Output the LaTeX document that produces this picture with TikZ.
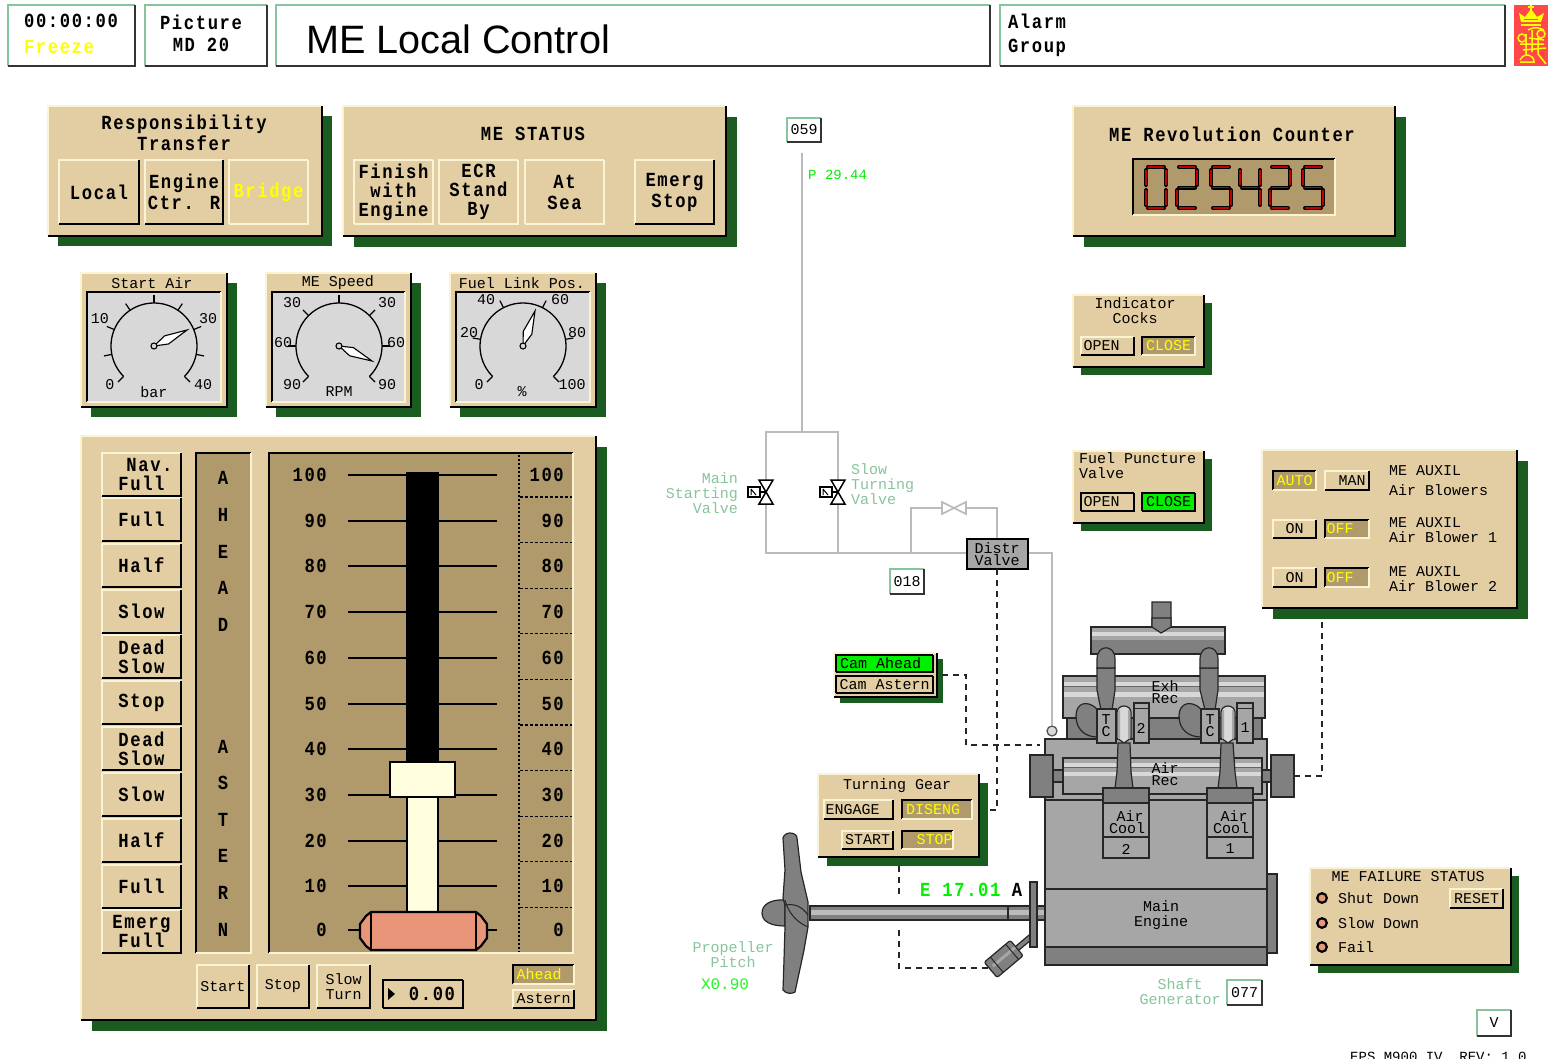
\documentclass[tikz,border=0pt]{standalone}
\usepackage{fontspec}
\usetikzlibrary{calc}
\setmainfont{Liberation Sans}
\newfontfamily\pixel{Liberation Mono}
\newfontfamily\pixelb[BoldFeatures={FakeStretch=0.86,LetterSpace=8}]{Liberation Mono}
\definecolor{tanp}{HTML}{E3CDA3}
\definecolor{tand}{HTML}{B09A6C}
\definecolor{shad}{HTML}{1A5B20}
\definecolor{crm}{HTML}{FBF4D4}
\definecolor{gaugeg}{HTML}{D8D8D8}
\definecolor{paleg}{HTML}{88C49C}
\definecolor{cream}{HTML}{FFFFE0}
\definecolor{salm}{HTML}{E9957A}
\definecolor{engl}{HTML}{A6A6A6}
\definecolor{engm}{HTML}{808080}
\definecolor{pipe}{HTML}{BBBBBB}
\definecolor{brg}{HTML}{00F000}
\definecolor{yel}{HTML}{FFFF00}
\definecolor{logor}{HTML}{FF4848}
\tikzset{
 big/.style={font=\pixelb\bfseries\fontsize{20}{19}\selectfont,align=center,inner sep=0pt},
 bigw/.style={font=\pixelb\bfseries\fontsize{20}{21}\selectfont,align=center,inner sep=0pt},
 sm/.style={font=\pixel\fontsize{15}{15}\selectfont,align=center,inner sep=0pt},
 smt/.style={font=\pixel\fontsize{15}{12}\selectfont,align=center,inner sep=0pt},
 lft/.style={anchor=west,align=left},
 rgt/.style={anchor=east,align=right},
 ptext/.style={text=paleg},
 pipeline/.style={draw=pipe,line width=1.6},
 dashline/.style={draw=black!85,line width=1.2,dash pattern=on 6pt off 5pt},
 eng/.style={draw=black!85,line width=1.2,fill=engl},
 engd/.style={draw=black!85,line width=1.2,fill=engm},
 tick/.style={draw=black,line width=1.2},
}
% fill, top-left, bottom-right, x1,y1,x2,y2
\newcommand\bevel[7]{%
 \fill[#1] (#4,#5) rectangle (#6,#7);
 \draw[#2,line width=1.5] (#4,#7)--(#4,#5)--(#6,#5);
 \draw[#3,line width=1.5] (#4,#7)--(#6,#7)--(#6,#5);}
\newcommand\panel[5]{%
 \fill[shad] ({#1+#5},{#2+#5}) rectangle ({#3+#5},{#4+#5});
 \bevel{tanp}{crm}{black}{#1}{#2}{#3}{#4}}
\newcommand\tx[5]{\node[#1] (#2) at (#3,#4) {#5};}
% style,name,x1,y1,x2,y2,text
\newcommand\btnup[7]{\bevel{tanp}{crm}{black}{#3}{#4}{#5}{#6}%
 \node[#1] (#2) at ({(#3+#5)/2},{(#4+#6)/2}) {#7};}
\newcommand\btndn[7]{\bevel{tand}{black}{crm}{#3}{#4}{#5}{#6}%
 \node[#1,text=yel] (#2) at ({(#3+#5)/2},{(#4+#6)/2}) {#7};}
\newcommand\btnfl[7]{\bevel{tanp}{crm}{crm}{#3}{#4}{#5}{#6}%
 \node[#1] (#2) at ({(#3+#5)/2},{(#4+#6)/2}) {#7};}
\newcommand\btnfr[8]{\bevel{#8}{black}{black}{#3}{#4}{#5}{#6}%
 \node[#1] (#2) at ({(#3+#5)/2},{(#4+#6)/2}) {#7};}
\newcommand\hdr[7]{\bevel{white}{paleg}{black!80}{#3}{#4}{#5}{#6}%
 \node[#1] (#2) at ({(#3+#5)/2},{(#4+#6)/2}) {#7};}
% gauge: x1 of panel, x2, cx, tip x, tip y, ticks
\newcommand\gauge[6]{%
 \panel{#1}{273}{#2}{407}{10}
 \bevel{gaugeg}{black}{crm}{#1+6}{292}{#2-6}{402}
 \draw[line width=1.3] plot[domain=-45:225,samples=60] ({#3+43*cos(\x)},{346-43*sin(\x)});
 \foreach \a in {#6}{\draw[tick] ({#3+43*cos(\a)},{346-43*sin(\a)})--({#3+51*cos(\a)},{346-51*sin(\a)});}
 \coordinate (hub#3) at (#3,346);
 \coordinate (tip#3) at (#4,#5);
 \draw[fill=white,line width=1.1] (hub#3)--($(hub#3)!.38!(tip#3)!4.5pt!90:(tip#3)$)--(tip#3)--($(hub#3)!.38!(tip#3)!4.5pt!-90:(tip#3)$)--cycle;
 \draw[fill=gaugeg,line width=1.1] (hub#3) circle (3);}
% valve
\newcommand\vvalve[2]{%
 \draw[fill=white,line width=1.5] ({#1-7},{#2-12})--({#1+7},{#2-12})--({#1-7},{#2+12})--({#1+7},{#2+12})--cycle;
 \draw[fill=white,line width=1.5] ({#1-18},{#2-5}) rectangle ({#1-6},{#2+5});
 \draw[line width=1.3] ({#1-6},#2)--(#1,#2);
 \draw[line width=1] ({#1-15},{#2-3})--({#1-15},{#2+3}) ({#1-15},{#2-3})--({#1-10},{#2+3});}
% seven segment
\newcommand\sg[4]{\draw[black,line width=4,line cap=round] (#1,#2)--(#3,#4);\draw[red!75!black,line width=1.8] (#1,#2)--(#3,#4);}
\newcommand\sA[1]{\sg{#1+4}{167}{#1+20}{167}}
\newcommand\sB[1]{\sg{#1+22}{170}{#1+22}{185}}
\newcommand\sC[1]{\sg{#1+22}{190}{#1+22}{205}}
\newcommand\sD[1]{\sg{#1+4}{208}{#1+20}{208}}
\newcommand\sE[1]{\sg{#1+2}{190}{#1+2}{205}}
\newcommand\sF[1]{\sg{#1+2}{170}{#1+2}{185}}
\newcommand\sG[1]{\sg{#1+4}{187.5}{#1+20}{187.5}}
\newcommand\dZero[1]{\sA{#1}\sB{#1}\sC{#1}\sD{#1}\sE{#1}\sF{#1}}
\newcommand\dTwo[1]{\sA{#1}\sB{#1}\sG{#1}\sE{#1}\sD{#1}}
\newcommand\dFive[1]{\sA{#1}\sF{#1}\sG{#1}\sC{#1}\sD{#1}}
\newcommand\dFour[1]{\sF{#1}\sG{#1}\sB{#1}\sC{#1}}
% banded rail
\newcommand\rail[4]{%
 \fill[engl] (#1,#2) rectangle (#3,#4);
 \fill[gaugeg] (#1,{#2+0.14*(#4-#2)}) rectangle (#3,{#2+0.24*(#4-#2)});
 \fill[black!60] (#1,{#2+0.24*(#4-#2)}) rectangle (#3,{#2+0.27*(#4-#2)});
 \fill[gaugeg] (#1,{#2+0.38*(#4-#2)}) rectangle (#3,{#2+0.50*(#4-#2)});
 \draw[black!85,line width=1.2] (#1,#2) rectangle (#3,#4);}
\begin{document}
\begin{tikzpicture}[x=1pt,y=-1pt]
\useasboundingbox (0,0) rectangle (1548,1058);
\fill[white] (0,0) rectangle (1548,1058);
%% ---- header
\bevel{white}{paleg}{black!80}{8}{5}{135}{66}
\tx{big}{clock}{71}{21}{00:00:00}
\tx{big,text=yel}{freeze}{59}{47}{Freeze}
\bevel{white}{paleg}{black!80}{145}{5}{267}{66}
\tx{big}{picture}{201}{22}{Picture}
\tx{big}{mdtwenty}{201}{45}{MD 20}
\bevel{white}{paleg}{black!80}{276}{5}{990}{66}
\node[font=\fontsize{39.6}{42}\selectfont,anchor=west,inner sep=0pt] (title) at (306,39) {ME Local Control};
\bevel{white}{paleg}{black!80}{1000}{5}{1505}{66}
\tx{big}{alarm}{1037}{21}{Alarm}
\tx{big}{group}{1037}{48}{Group}
%% logo
\fill[logor] (1514,5) rectangle (1548,66);
\fill[yel] (1521,22)--(1519,13)--(1525,17)--(1531,9)--(1537,17)--(1544,13)--(1541,22)--cycle;
\draw[yel,line width=1.4] (1521,25)--(1541,25) (1531,5)--(1531,11) (1528,7)--(1534,7);
\draw[logor,line width=1] (1524,19)--(1538,19);
\draw[yel,line width=1.5] (1522,38) circle (4) (1541,34) circle (4) (1526,34)--(1526,56) (1532,30)--(1532,52) (1538,36)--(1538,54) (1520,44)--(1544,44) (1523,50)--(1546,48) (1528,30) .. controls (1534,26) and (1540,28) .. (1544,30) (1520,60) .. controls (1524,52) and (1534,54) .. (1534,62) -- (1520,62) (1538,54)--(1546,64) (1529,38)--(1544,40);
%% ---- responsibility
\panel{48}{106}{322}{236}{10}
\node[bigw] (resp) at (184,133) {Responsibility\\Transfer};
\btnup{big}{local}{59}{160}{139}{224}{Local}
\btnup{bigw}{ectr}{145}{160}{223}{224}{Engine\\Ctr. R}
\btnfl{big,text=yel}{bridge}{229}{160}{308}{224}{Bridge}
%% ---- ME status
\panel{343}{106}{726}{236}{11}
\tx{big}{mestatus}{533}{134}{ME STATUS}
\btnfl{big}{finish}{354}{160}{433}{224}{Finish\\with\\Engine}
\btnfl{big}{ecr}{439}{160}{518}{224}{ECR\\Stand\\By}
\btnfl{bigw}{atsea}{525}{160}{604}{224}{At\\Sea}
\btnup{bigw}{emerg}{635}{160}{714}{224}{Emerg\\Stop}
%% ---- gauges
\gauge{81}{227}{154}{187}{330}{225,191.25,157.5,123.75,90,56.25,22.5,-11.25,-45}
\tx{sm}{g1t}{152}{283}{Start Air}
\tx{sm}{g1a}{100}{319}{10}\tx{sm}{g1b}{208}{319}{30}\tx{sm}{g1c}{110}{385}{0}\tx{sm}{g1d}{203}{385}{40}\tx{sm}{g1u}{154}{392}{bar}
\gauge{266}{411}{339}{372}{361}{225,180,135,90,45,0,-45}
\tx{sm}{g2t}{338}{283}{ME Speed}
\tx{sm}{g2a}{292}{303}{30}\tx{sm}{g2b}{387}{303}{30}\tx{sm}{g2c}{283}{343}{60}\tx{sm}{g2d}{396}{343}{60}\tx{sm}{g2e}{292}{385}{90}\tx{sm}{g2f}{387}{385}{90}\tx{sm}{g2u}{339}{392}{RPM}
\gauge{450}{596}{523}{535}{311}{225,171,117,63,9,-45}
\tx{sm}{g3t}{522}{283}{Fuel Link Pos.}
\tx{sm}{g3a}{486}{300}{40}\tx{sm}{g3b}{560}{300}{60}\tx{sm}{g3c}{469}{333}{20}\tx{sm}{g3d}{577}{333}{80}\tx{sm}{g3e}{479}{385}{0}\tx{sm}{g3f}{572}{385}{100}\tx{sm}{g3u}{522}{392}{\%}
%% ---- telegraph
\panel{81}{436}{596}{1020}{11}
\btnup{big}{t1}{102}{453}{181}{496}{\hspace*{16pt}Nav.\\Full}
\btnup{big}{t2}{102}{498}{181}{541}{Full}
\btnup{big}{t3}{102}{544}{181}{587}{Half}
\btnup{big}{t4}{102}{590}{181}{633}{Slow}
\btnup{big}{t5}{102}{635}{181}{678}{Dead\\Slow}
\btnup{big}{t6}{102}{681}{181}{724}{Stop}
\btnup{big}{t7}{102}{727}{181}{770}{Dead\\Slow}
\btnup{big}{t8}{102}{773}{181}{816}{Slow}
\btnup{big}{t9}{102}{819}{181}{862}{Half}
\btnup{big}{t10}{102}{865}{181}{908}{Full}
\btnup{big}{t11}{102}{910}{181}{953}{Emerg\\Full}
\bevel{tand}{black}{crm}{196}{453}{251}{953}
\foreach \l/\y in {A/478,H/515,E/552,A/588,D/625,A/747,S/783,T/820,E/856,R/893,N/930}{\node[big] (let\y) at (223,\y) {\l};}
\bevel{tand}{black}{crm}{269}{453}{573}{953}
\draw[black,line width=1.3,dash pattern=on 2pt off 2pt] (519,455)--(519,952);
\foreach \k in {0,...,9}{\draw[black,line width=1.1,dash pattern=on 3pt off 2pt] (520,{497+45.6*\k})--(572,{497+45.6*\k});}
\foreach \v/\y in {100/475,90/521,80/566,70/612,60/658,50/704,40/749,30/795,20/841,10/886,0/930}{
 \draw[tick] (348,\y)--(497,\y);
 \node[big,anchor=east] (la\v) at (327,\y) {\v};
 \node[big,anchor=east] (ra\v) at (564,\y) {\v};}
\fill[black] (406,472) rectangle (439,762);
\draw[fill=cream,line width=2.4] (407,797) rectangle (438,912);
\draw[fill=cream,line width=2.4] (390,762) rectangle (455,797);
\draw[fill=salm,line width=2.2] (371,912)--(476,912)--(481,916)--(487,924)--(487,938)--(481,946)--(476,950)--(371,950)--(366,946)--(360,938)--(360,924)--(366,916)--cycle;
\draw[line width=2.2] (371,912)--(371,950) (476,912)--(476,950);
\btnfl{sm}{bstart}{197}{965}{249}{1008}{Start}
\draw[black,line width=1.4] (197,1008)--(249,1008)--(249,965);
\btnfl{sm}{bstop}{257}{965}{309}{1008}{Stop}
\draw[black,line width=1.4] (257,1008)--(309,1008)--(309,965);
\btnfl{sm}{bslow}{317}{965}{370}{1008}{Slow\\Turn}
\draw[black,line width=1.4] (317,1008)--(370,1008)--(370,965);
\bevel{tanp}{black}{black}{383}{980}{463}{1008}
\fill[black] (388,988)--(395,994)--(388,1000)--cycle;
\tx{big}{value}{432}{994}{0.00}
\btndn{sm}{ahead}{513}{965}{574}{984}{Ahead\hspace*{9pt}}
\btnup{sm}{astern}{513}{990}{574}{1008}{Astern}
%% ---- revolution counter
\panel{1073}{106}{1395}{236}{11}
\tx{big}{revt}{1232}{134}{ME Revolution Counter}
\bevel{tand}{black}{crm}{1133}{159}{1335}{215}
\dZero{1144}\dTwo{1175}\dFive{1209}\dFour{1238}\dTwo{1268}\dFive{1301}
%% ---- indicator cocks
\panel{1073}{295}{1204}{367}{8}
\node[sm] (ict) at (1135,311) {Indicator\\Cocks};
\btnup{sm}{icopen}{1081}{337}{1134}{355}{OPEN\hspace*{12pt}}
\btndn{sm}{icclose}{1142}{337}{1195}{355}{CLOSE}
%% ---- fuel puncture
\panel{1073}{451}{1204}{523}{8}
\node[sm,anchor=north west,align=left] (fpt) at (1079,452) {Fuel Puncture\\Valve};
\btnfr{sm}{fpopen}{1081}{493}{1134}{511}{OPEN\hspace*{12pt}}{tanp}
\btnfr{sm}{fpclose}{1142}{493}{1195}{511}{CLOSE}{brg}
%% ---- aux blowers
\panel{1262}{450}{1517}{608}{11}
\btndn{sm}{auto}{1273}{471}{1316}{490}{AUTO}
\btnup{sm}{man}{1325}{471}{1369}{490}{\hspace*{10pt}MAN}
\btnup{sm}{on1}{1273}{520}{1316}{538}{ON}
\btndn{sm}{off1}{1325}{520}{1369}{538}{OFF\hspace*{14pt}}
\btnup{sm}{on2}{1273}{568}{1316}{587}{ON}
\btndn{sm}{off2}{1325}{568}{1369}{587}{OFF\hspace*{14pt}}
\node[sm,lft] (aux0a) at (1389,471) {ME AUXIL};
\node[sm,lft] (aux0b) at (1389,490) {Air Blowers};
\node[sm,lft] (aux1) at (1389,530.5) {ME AUXIL\\Air Blower 1};
\node[sm,lft] (aux2) at (1389,579.5) {ME AUXIL\\Air Blower 2};
%% ---- pipes
\hdr{sm}{b059}{787}{118}{821}{142}{059}
\node[sm,font=\pixel\fontsize{14}{14}\selectfont,text=brg,lft] (p2944) at (808,175) {P 29.44};
\coordinate (j0) at (802,153);
\coordinate (jt) at (802,432);
\coordinate (tl) at (766,432);
\coordinate (tr) at (838,432);
\coordinate (bl) at (766,553);
\coordinate (br) at (838,553);
\coordinate (jb) at (911,553);
\coordinate (jb2) at (911,508);
\coordinate (jv) at (997,508);
\draw[pipeline] (j0)--(jt);
\draw[pipeline] (tl)--(tr)--(br)--(bl)--cycle;
\draw[pipeline] (br)--(967,553);
\draw[pipeline] (jb)--(jb2)--(jv)--(997,539);
\draw[draw=pipe,fill=white,line width=1.6] (942,502)--(942,514)--(966,502)--(966,514)--cycle;
\draw[pipeline] (1028,553)--(1052,553)--(1052,725);
\draw[draw=black!70,fill=gaugeg,line width=1.2] (1052,731) circle (5);
\vvalve{766}{492}
\vvalve{838}{492}
\node[sm,ptext,rgt] (msv) at (738,493) {Main\\Starting\\Valve};
\node[sm,ptext,lft] (stv) at (851,484) {Slow\\Turning\\Valve};
\hdr{sm}{b018}{890}{569}{924}{594}{018}
\draw[black,line width=1.5,fill=engl] (967,539) rectangle (1028,569);
\node[smt] (distr) at (997,554) {Distr\\Valve};
%% ---- cam
\panel{834}{653}{937}{697}{6}
\btnfr{sm}{camah}{836}{655}{933}{672}{Cam Ahead\hspace*{8pt}}{brg}
\btnfr{sm}{camas}{836}{676}{933}{693}{Cam Astern}{tanp}
%% ---- dashed
\coordinate (d1) at (997,569);
\coordinate (d2) at (997,810);
\draw[dashline] (d1)--(d2)--(981,810);
\draw[dashline] (942,675)--(966,675)--(966,745)--(1040,745);
\draw[dashline] (899,866)--(899,895);
\draw[dashline] (899,930)--(899,968)--(990,968);
\draw[dashline] (1294,776)--(1322,776)--(1322,617);
%% ---- turning gear
\panel{818}{774}{979}{857}{9}
\tx{sm}{tgt}{897}{786}{Turning Gear}
\btnup{sm}{eng}{824}{800}{893}{819}{ENGAGE\hspace*{12pt}}
\btndn{sm}{dis}{902}{800}{972}{819}{DISENG\hspace*{8pt}}
\btnup{sm}{tstart}{842}{831}{893}{849}{START}
\btndn{sm}{tstop}{902}{831}{953}{849}{\hspace*{14pt}STOP}
%% ---- propeller
\draw[eng,fill=engm] (810,906) rectangle (1045,920);
\fill[pipe] (811,910) rectangle (1044,915);
\draw[black!85,line width=1.2] (810,906) rectangle (1045,920) (1008,906)--(1008,920);
\draw[eng,fill=engm] (785,900) .. controls (770,899) and (762,905) .. (762,913) .. controls (762,921) and (770,926) .. (785,926) -- cycle;
\draw[eng,fill=engm] (783,838) .. controls (784,834) and (788,833) .. (790,833) .. controls (794,833) and (797,835) .. (797,838) -- (801,872)--(808,902)--(808,927)--(804,950)--(795,992) .. controls (792,994) and (786,994) .. (783,990)--(784,960)--(785,927)--(785,905)--(783,898)--(785,870)--cycle;
\draw[black!85,line width=1] (785,900) .. controls (788,912) and (796,922) .. (808,927) (785,905) .. controls (792,904) and (800,904) .. (808,915);
\node[sm,ptext] (pitch) at (733,955) {Propeller\\Pitch};
\node[sm,text=brg!85!white,font=\pixel\fontsize{16}{16}\selectfont] (x090) at (725,984) {X0.90};
\node[big,text=brg,anchor=west] (e1701) at (920,890) {E 17.01};
\tx{big}{a1}{1017}{890}{A}
%% gear motor
\begin{scope}[shift={(1006,957)},rotate=40]
 \draw[eng,fill=engm] (0,-2) rectangle (32,3);
 \draw[eng,fill=engm,rounded corners=2] (-20,-10) rectangle (14,10);
 \fill[engl] (-16,-3) rectangle (13,0);
 \draw[black!85,line width=1] (-12,-10)--(-12,10) (8,-10)--(8,10);
\end{scope}
%% ---- engine
\draw[engd] (1152,602)--(1171,602)--(1171,627)--(1161,633)--(1152,627)--cycle;
\fill[engm] (1091,627) rectangle (1225,654);
\fill[engl] (1091,628) rectangle (1225,640);
\fill[gaugeg] (1091,632) rectangle (1225,636);
\draw[black!85,line width=1.2] (1091,627) rectangle (1225,654);
\draw[engd] (1152,618)--(1171,618)--(1171,627)--(1161,633)--(1152,627)--cycle;
\rail{1063}{676}{1265}{718}
\draw[engd] (1097,668)--(1115,668)--(1115,690)--(1112,710)--(1101,710)--(1097,690)--cycle;
\draw[engd] (1200,668)--(1218,668)--(1218,690)--(1215,710)--(1205,710)--(1200,690)--cycle;
\draw[engd] (1097,668) -- (1097,659) .. controls (1097,644) and (1115,644) .. (1115,659) -- (1115,668) -- cycle;
\draw[engd] (1200,668) -- (1200,659) .. controls (1200,644) and (1218,644) .. (1218,659) -- (1218,668) -- cycle;
\draw[engd] (1067,718) rectangle (1262,739);
\draw[eng] (1045,739) rectangle (1267,800);
\draw[eng] (1045,800) rectangle (1267,889);
\draw[eng] (1045,889) rectangle (1267,947);
\draw[engd] (1045,947) rectangle (1267,965);
\draw[engd] (1267,874) rectangle (1277,953);
\rail{1063}{758}{1262}{794}
\draw[engd] (1030,755) rectangle (1053,797);
\draw[engd] (1053,770) rectangle (1063,782);
\draw[engd] (1271,755) rectangle (1294,797);
\draw[engd] (1262,770) rectangle (1271,782);
\draw[engd] (1097,709) .. controls (1088,700) and (1076,702) .. (1076,716) .. controls (1076,730) and (1086,737) .. (1097,737) -- cycle;
\draw[engd] (1201,709) .. controls (1192,700) and (1179,702) .. (1179,716) .. controls (1179,730) and (1189,737) .. (1201,737) -- cycle;
\draw[eng] (1097,709) rectangle (1116,743);
\draw[eng] (1201,709) rectangle (1219,743);
\draw[eng,fill=gaugeg] (1117,712) .. controls (1118,704) and (1130,704) .. (1131,712) -- (1131,738) -- (1124,743) -- (1117,738) -- cycle;
\draw[eng,fill=gaugeg] (1221,712) .. controls (1222,704) and (1234,704) .. (1235,712) -- (1235,738) -- (1228,743) -- (1221,738) -- cycle;
\fill[engl] (1118,710) rectangle (1120,739) (1128,710) rectangle (1130,739);
\fill[engl] (1222,710) rectangle (1224,739) (1232,710) rectangle (1234,739);
\draw[eng] (1134,703) rectangle (1149,743);
\draw[eng] (1237,703) rectangle (1253,743);
\draw[black!85,line width=1] (1134,708)--(1149,708) (1237,708)--(1253,708);
\draw[engd] (1118,743)--(1130,743)--(1131,772)--(1133,788)--(1115,788)--(1117,772)--cycle;
\draw[engd] (1221,743)--(1233,743)--(1235,772)--(1237,788)--(1218,788)--(1220,772)--cycle;
\draw[eng] (1103,788) rectangle (1149,858);
\draw[engd] (1103,788) rectangle (1149,803);
\draw[black!85,line width=1.2] (1103,837)--(1149,837);
\draw[eng] (1207,788) rectangle (1253,858);
\draw[engd] (1207,788) rectangle (1253,803);
\draw[black!85,line width=1.2] (1207,837)--(1253,837);
\draw[eng,fill=engm] (1030,882) rectangle (1037,947);
\node[smt] (exh) at (1165,692) {Exh\\Rec};
\node[smt] (airr) at (1165,774) {Air\\Rec};
\node[smt] (tc2) at (1106,726) {T\\C};
\node[smt] (tc1) at (1210,726) {T\\C};
\tx{sm}{n2}{1141}{728}{2}
\tx{sm}{n1}{1245}{728}{1}
\node[smt] (ac2) at (1127,822) {\hspace*{6pt}Air\\Cool};
\node[smt] (ac1) at (1231,822) {\hspace*{6pt}Air\\Cool};
\tx{sm}{c2}{1126}{849}{2}
\tx{sm}{c1}{1230}{849}{1}
\node[sm] (mainE) at (1161,915) {Main\\Engine};
\node[sm,ptext] (sgen) at (1180,991.5) {Shaft\\Generator};
\hdr{sm}{b077}{1227}{980}{1262}{1005}{077}
%% ---- failure
\panel{1310}{868}{1511}{965}{8}
\tx{sm}{ft}{1408}{877}{ME FAILURE STATUS}
\foreach \y/\t/\n in {898/Shut Down/a,923/Slow Down/b,947/Fail/c}{
 \draw[fill=salm,line width=2.2] (1322,\y) circle (4.8);
 \node[sm,lft] (led\n) at (1338,\y) {\t};}
\btnup{sm}{reset}{1450}{889}{1503}{908}{RESET}
\hdr{sm}{bv}{1477}{1010}{1511}{1036}{V}
\begin{scope}
\clip (1340,1040) rectangle (1548,1058);
\node[sm,lft,font=\pixel\fontsize{14}{14}\selectfont] (rev) at (1350,1058) {EPS M900 IV, REV: 1.0};
\end{scope}
\end{tikzpicture}
\end{document}
